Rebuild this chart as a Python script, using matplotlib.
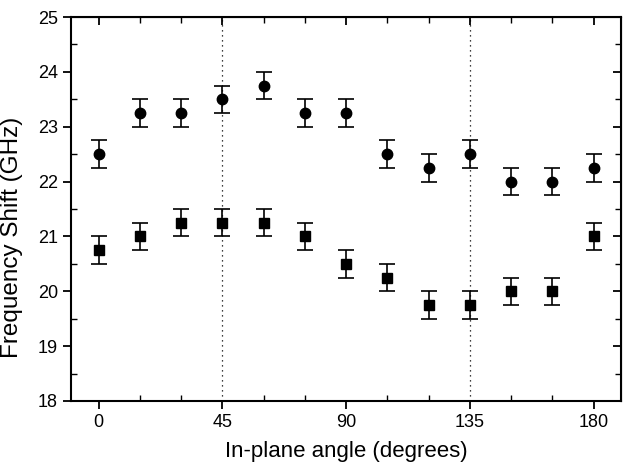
import matplotlib
matplotlib.use("Agg")
import matplotlib.pyplot as plt
from matplotlib.ticker import MultipleLocator

plt.rcParams['font.family'] = ['Liberation Sans', 'DejaVu Sans']

angles = [0, 15, 30, 45, 60, 75, 90, 105, 120, 135, 150, 165, 180]
shift_circles = [22.5, 23.25, 23.25, 23.5, 23.75, 23.25, 23.25, 22.5, 22.25, 22.5, 22.0, 22.0, 22.25]
shift_squares = [20.75, 21.0, 21.25, 21.25, 21.25, 21.0, 20.5, 20.25, 19.75, 19.75, 20.0, 20.0, 21.0]
err = 0.25
guide_angles = [45, 135]

fig = plt.figure(figsize=(6.23, 4.66), dpi=100)
ax = fig.add_axes([0.114, 0.1395, 0.883, 0.824])

for g in guide_angles:
    ax.axvline(g, color='black', linestyle=(0, (1, 3)), linewidth=0.9, zorder=1)

ax.errorbar(angles, shift_circles, yerr=err, fmt='o', color='black', markersize=7.5,
            capsize=6, elinewidth=1.2, capthick=1.2, zorder=3)
ax.errorbar(angles, shift_squares, yerr=err, fmt='s', color='black', markersize=6.5,
            capsize=6, elinewidth=1.2, capthick=1.2, zorder=3)

ax.set_xlim(-10, 190)
ax.set_ylim(18, 25)
ax.xaxis.set_major_locator(MultipleLocator(45))
ax.xaxis.set_minor_locator(MultipleLocator(15))
ax.yaxis.set_major_locator(MultipleLocator(1))
ax.yaxis.set_minor_locator(MultipleLocator(0.5))

for s in ax.spines.values():
    s.set_linewidth(1.5)

ax.tick_params(which='major', direction='out', length=6, width=1.3, labelsize=13,
               top=False, right=False)
ax.tick_params(which='minor', direction='in', length=4, width=1.0, top=False, right=False)

# mirrored inward ticks on top and right
ax_top = ax.secondary_xaxis('top')
ax_top.xaxis.set_major_locator(MultipleLocator(45))
ax_top.xaxis.set_minor_locator(MultipleLocator(15))
ax_top.tick_params(which='both', direction='in', labeltop=False)
ax_top.tick_params(which='major', length=6, width=1.3)
ax_top.tick_params(which='minor', length=4, width=1.0)
ax_right = ax.secondary_yaxis('right')
ax_right.yaxis.set_major_locator(MultipleLocator(1))
ax_right.yaxis.set_minor_locator(MultipleLocator(0.5))
ax_right.tick_params(which='both', direction='in', labelright=False)
ax_right.tick_params(which='major', length=6, width=1.3)
ax_right.tick_params(which='minor', length=4, width=1.0)

ax.set_xlabel("In-plane angle (degrees)", fontsize=16, labelpad=7)
ax.set_ylabel("Frequency Shift (GHz)", fontsize=17.5)
ax.yaxis.set_label_coords(-0.088, 0.427)

fig.savefig("out.png", dpi=100)
